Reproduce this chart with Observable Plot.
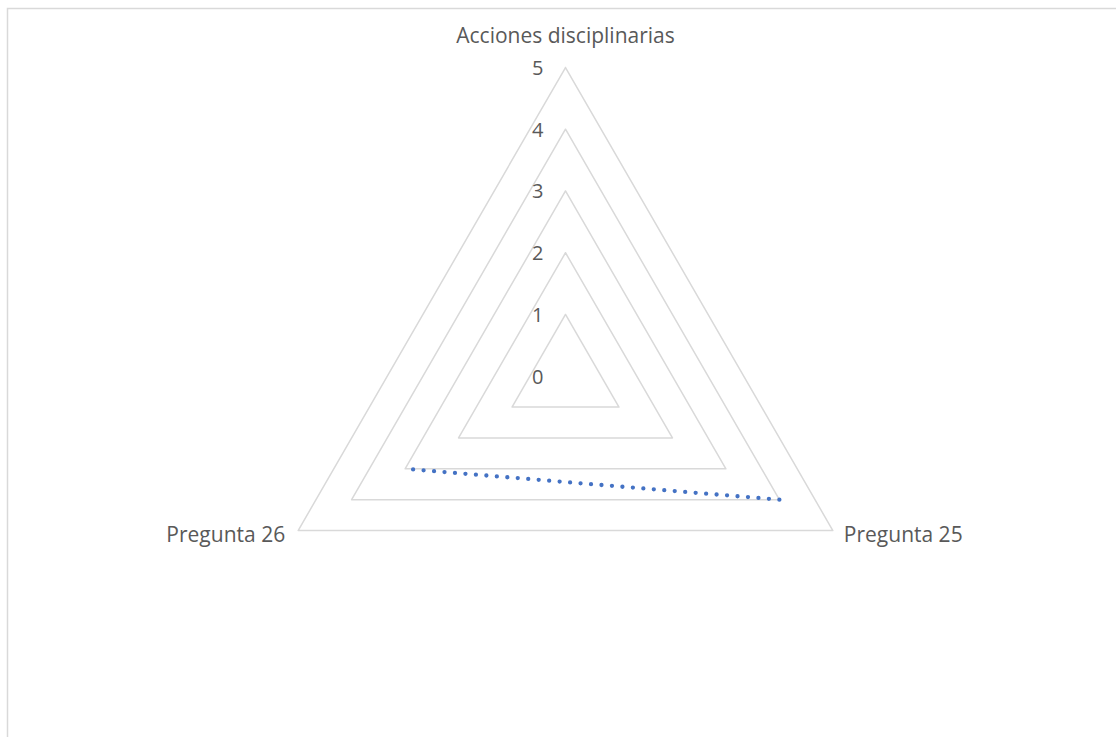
<!DOCTYPE html>
<html>
<head>
<meta charset="utf-8">
<script src="https://cdn.jsdelivr.net/npm/d3@7"></script>
<script src="https://cdn.jsdelivr.net/npm/@observablehq/plot@0.6"></script>
<style>
  html, body { margin: 0; padding: 0; background: #fff; }
  #chart svg { display: block; }
</style>
</head>
<body>
<div id="chart"></div>
<script>
// Radar categories, clockwise from the top
const categories = ["Acciones disciplinarias", "Pregunta 25", "Pregunta 26"];
// Series values (no value for the first category, so the outline is broken there)
const values = [null, 4, 3];
// Radial value ticks
const ticks = [0, 1, 2, 3, 4, 5];

const W = 1116, H = 737;
const maxV = 5;
const cx = 565, cy = 375.7, Rpx = 308.7;   // chart centre and outer radius in px
const unit = Rpx / maxV;

const angle = i => Math.PI / 2 - i * 2 * Math.PI / categories.length;
const pt = (i, v) => v == null ? [NaN, NaN] : [v * Math.cos(angle(i)), v * Math.sin(angle(i))];

// Grid rings (closed triangles); the zero ring collapses to the centre
const rings = ticks.filter(t => t > 0).flatMap(t =>
  [...categories.keys(), 0].map(i => {
    const [x, y] = pt(i, t);
    return {ring: t, x, y};
  })
);

// Series outline, closed back to the first category
const series = [...categories.keys(), 0].map(i => {
  const [x, y] = pt(i, values[i]);
  return {x, y};
});

const labels = categories.map((name, i) => {
  const [x, y] = pt(i, maxV);
  return {name, i, x, y};
});

const tickLabels = ticks.map(t => ({t, x: 0, y: t}));

const font = "'Open Sans', sans-serif";
const fs = 21;

const plot = Plot.plot({
  width: W,
  height: H,
  margin: 0,
  style: {fontFamily: font, background: "#fff"},
  x: {domain: [-cx / unit, (W - cx) / unit], axis: null},
  y: {domain: [-(H - cy) / unit, cy / unit], axis: null},
  marks: [
    Plot.line(rings, {x: "x", y: "y", z: "ring", stroke: "#d9d9d9", strokeWidth: 1.5}),
    Plot.line(series, {
      x: "x", y: "y",
      stroke: "#4472c4", strokeWidth: 4.3,
      strokeDasharray: "0 10.5", strokeLinecap: "round"
    }),
    Plot.text(tickLabels, {
      x: "x", y: "y", text: d => String(d.t),
      textAnchor: "end", dx: -22, dy: 1,
      fontSize: 20, fill: "#595959"
    }),
    Plot.text(labels.filter(d => d.i === 0), {
      x: "x", y: "y", text: "name",
      textAnchor: "middle", dy: -31,
      fontSize: fs, fill: "#595959"
    }),
    Plot.text(labels.filter(d => d.i === 1), {
      x: "x", y: "y", text: "name",
      textAnchor: "start", dx: 11, dy: 5,
      fontSize: fs, fill: "#595959"
    }),
    Plot.text(labels.filter(d => d.i === 2), {
      x: "x", y: "y", text: "name",
      textAnchor: "end", dx: -13, dy: 5,
      fontSize: fs, fill: "#595959"
    })
  ]
});

// Chart-area frame
const svg = d3.select(plot);
svg.insert("rect", ":first-child")
  .attr("x", 7.5).attr("y", 8.5)
  .attr("width", W).attr("height", H)
  .attr("fill", "none").attr("stroke", "#d9d9d9").attr("stroke-width", 1.5);

document.getElementById("chart").appendChild(plot);
</script>
</body>
</html>
